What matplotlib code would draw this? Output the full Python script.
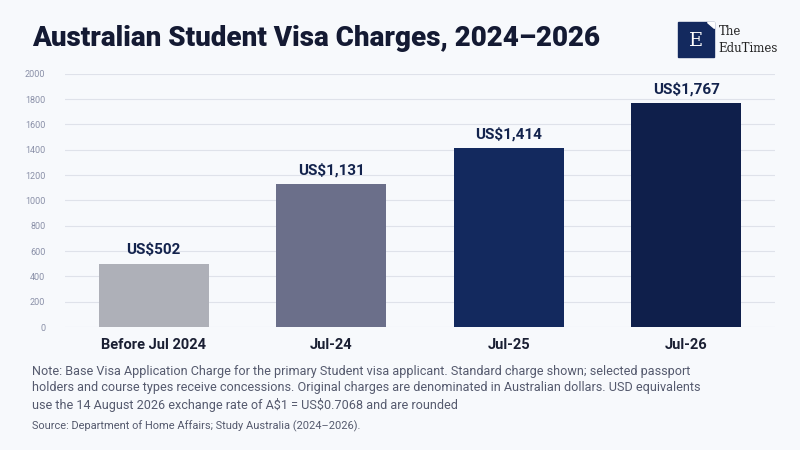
import matplotlib.pyplot as plt
from matplotlib.patches import Rectangle, Polygon

categories = ["Before Jul 2024", "Jul-24", "Jul-25", "Jul-26"]
values = [502, 1131, 1414, 1767]
labels = ["US\\$502", "US\\$1,131", "US\\$1,414", "US\\$1,767"]
colors = ["#aeb0b8", "#6b6f8a", "#13295e", "#0f1f4b"]
yticks = list(range(0, 2001, 200))

bg = "#f7f9fc"
plt.rcParams['font.family'] = ['Roboto', 'DejaVu Sans']
fig = plt.figure(figsize=(8, 4.5), dpi=100, facecolor=bg)
ax = fig.add_axes([0.081, 0.273, 0.888, 0.563], facecolor=bg)
x = range(len(categories))
ax.bar(x, values, width=0.62, color=colors, zorder=2)
for i, (v, l) in enumerate(zip(values, labels)):
    ax.text(i, v + 50, l, ha='center', va='bottom', fontsize=11, fontweight='bold', color='#13234d')
ax.set_ylim(0, 2000)
ax.set_xlim(-0.5, 3.5)
ax.set_yticks(yticks)
ax.set_yticklabels([str(t) for t in yticks], fontsize=6.5, color='#8a90a8')
ax.set_xticks(list(x))
ax.set_xticklabels(categories, fontsize=10.5, fontweight='bold', color='#1a1f33')
ax.grid(axis='y', color='#dfe2ea', linewidth=0.8, zorder=0)
for s in ax.spines.values():
    s.set_visible(False)
ax.tick_params(axis='y', length=0, pad=14)
ax.tick_params(axis='x', length=0, pad=8)

fig.text(0.04, 0.915, "Australian Student Visa Charges, 2024–2026", fontsize=20, fontweight='heavy', color='#141a33', va='center')
# logo
fig.patches.append(Rectangle((0.848, 0.873), 0.044, 0.078, transform=fig.transFigure, color='#13295e'))
fig.patches.append(Polygon([(0.884, 0.951), (0.892, 0.951), (0.892, 0.937)], closed=True, transform=fig.transFigure, color='white'))
fig.text(0.870, 0.910, "E", fontsize=14, color='white', ha='center', va='center', family='DejaVu Serif')
fig.text(0.898, 0.930, "The", fontsize=8.5, color='#222', va='center', family='DejaVu Serif')
fig.text(0.898, 0.893, "EduTimes", fontsize=8.5, color='#222', va='center', family='DejaVu Serif')

note = ("Note: Base Visa Application Charge for the primary Student visa applicant. Standard charge shown; selected passport\n"
        "holders and course types receive concessions. Original charges are denominated in Australian dollars. USD equivalents\n"
        "use the 14 August 2026 exchange rate of A\\$1 = US\\$0.7068 and are rounded")
fig.text(0.04, 0.188, note, fontsize=9.1, color='#555a6e', va='top', linespacing=1.3)
fig.text(0.04, 0.052, "Source: Department of Home Affairs; Study Australia (2024–2026).", fontsize=7.9, color='#555a6e', va='center')
fig.savefig("out.png", dpi=100, facecolor=bg)
